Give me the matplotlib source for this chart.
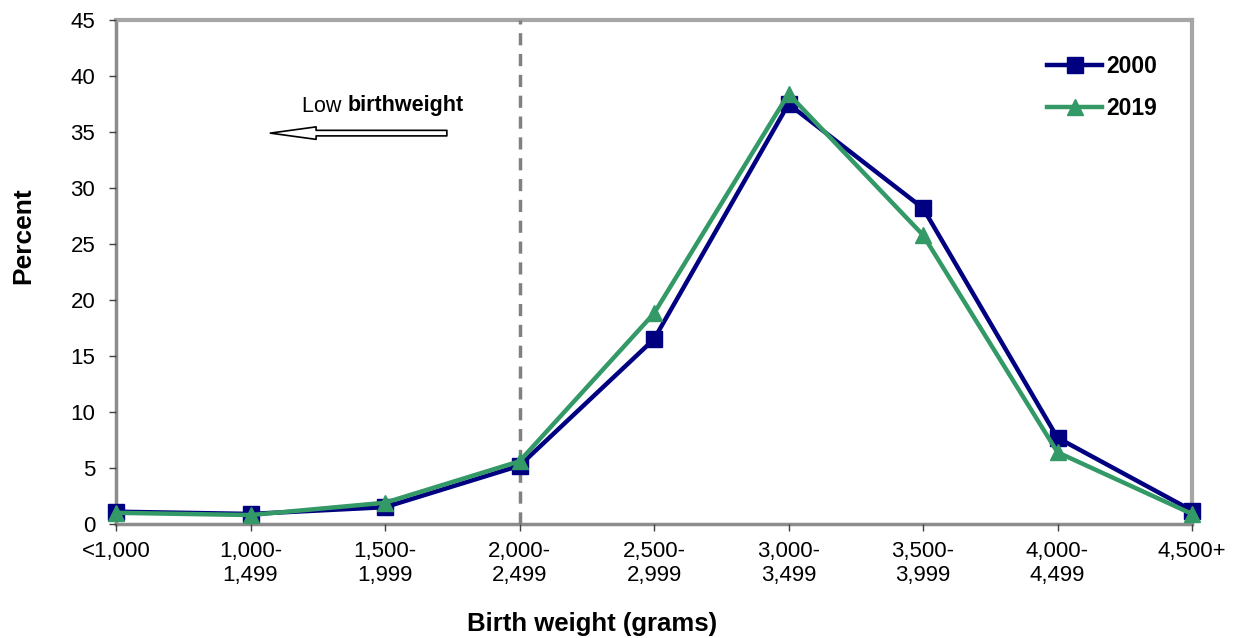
import matplotlib
matplotlib.use("Agg")
import matplotlib.pyplot as plt

plt.rcParams['font.family'] = ['Liberation Sans', 'DejaVu Sans']

categories = ["<1,000", "1,000-\n1,499", "1,500-\n1,999", "2,000-\n2,499", "2,500-\n2,999",
              "3,000-\n3,499", "3,500-\n3,999", "4,000-\n4,499", "4,500+"]
values_2000 = [1.1, 0.9, 1.5, 5.2, 16.5, 37.5, 28.2, 7.7, 1.2]
values_2019 = [1.0, 0.8, 1.9, 5.6, 18.8, 38.4, 25.8, 6.4, 0.9]
yticks = [0, 5, 10, 15, 20, 25, 30, 35, 40, 45]

fig = plt.figure(figsize=(12.41, 6.38), dpi=100)
ax = fig.add_axes([116/1241, 1 - 524/638, 1076/1241, 504/638])

x = list(range(len(categories)))
ax.plot(x, values_2000, color='#000080', lw=3.2, marker='s', ms=11.5, label='2000', zorder=3,
        clip_on=False)
ax.plot(x, values_2019, color='#339966', lw=3.2, marker='^', ms=11.5, label='2019', zorder=4,
        clip_on=False)

ax.axvline(3, color='#808080', lw=2.5, ls=(0, (3.5, 2.5)), zorder=2)

ax.set_xlim(0, 8)
ax.set_ylim(0, 45)
ax.set_yticks(yticks)
ax.set_xticks(x)
ax.set_xticklabels(categories, fontsize=16)
ax.tick_params(axis='y', labelsize=16, direction='out', length=5, width=1, color='#404040', pad=10)
ax.tick_params(axis='x', direction='out', length=5, width=1, color='#404040', pad=7)
for lab in ax.get_xticklabels():
    lab.set_linespacing(1.2)
    lab.set_verticalalignment('top')

for side in ['top', 'right']:
    ax.spines[side].set_color('#A6A6A6')
    ax.spines[side].set_linewidth(3)
for side in ['left', 'bottom']:
    ax.spines[side].set_color('#8C8C8C')
    ax.spines[side].set_linewidth(2.5)
for s in ax.spines.values():
    s.set_zorder(1)

fig.text(23/1241, 1 - 236/638, 'Percent', fontsize=19, fontweight='bold',
         rotation=90, ha='center', va='center')
fig.text(467/1241, 1 - 624/638, 'Birth weight (grams)', fontsize=18.5, fontweight='bold',
         ha='left', va='center')

ax.annotate('', xy=(1.147, 34.9), xytext=(2.46, 34.9),
            arrowprops=dict(arrowstyle='simple,head_length=3.3,head_width=0.9,tail_width=0.4',
                            fc='white', ec='black', lw=1.2, mutation_scale=10, shrinkA=0, shrinkB=0))
t1 = fig.text(302/1241, 1 - 106/638, 'Low ', fontsize=15.5, ha='left', va='center')
fig.canvas.draw()
bb = t1.get_window_extent()
fig.text(bb.x1/1241, 1 - 106/638, 'birthweight', fontsize=15.5, fontweight='bold',
         ha='left', va='center')

leg = ax.legend(loc='upper left', frameon=False, handlelength=2.4,
                prop={'weight': 'bold', 'size': 16.5}, labelspacing=0.85,
                handletextpad=0.17, borderpad=0, borderaxespad=0,
                bbox_to_anchor=((1047 - 116)/1076, (524 - 55)/504))

fig.savefig('out.png', dpi=100)
